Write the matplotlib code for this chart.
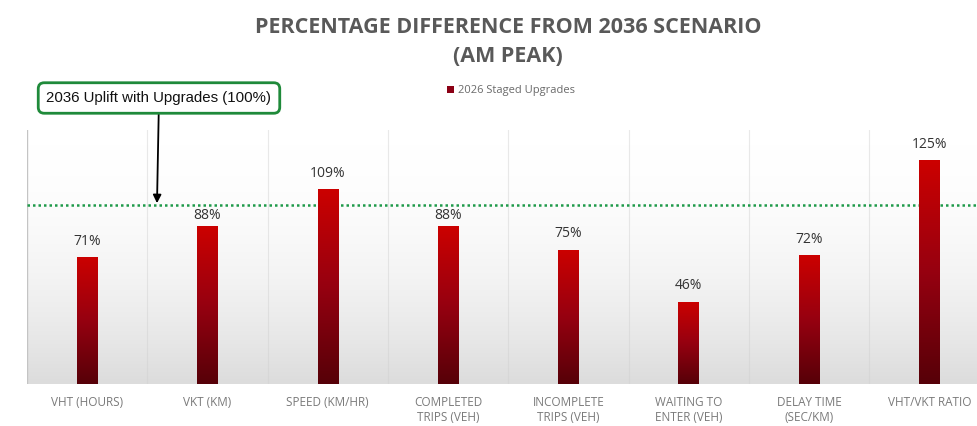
import numpy as np
import matplotlib
matplotlib.use('Agg')
import matplotlib.pyplot as plt
from matplotlib.colors import LinearSegmentedColormap
from matplotlib.patches import Rectangle

# Chart data
categories = ['VHT (HOURS)', 'VKT (KM)', 'SPEED (KM/HR)', 'COMPLETED\nTRIPS (VEH)',
              'INCOMPLETE\nTRIPS (VEH)', 'WAITING TO\nENTER (VEH)', 'DELAY TIME\n(SEC/KM)',
              'VHT/VKT RATIO']
staged_2026 = [71, 88, 109, 88, 75, 46, 72, 125]
uplift_level = 100
series_name = '2026 Staged Upgrades'
title = 'PERCENTAGE DIFFERENCE FROM 2036 SCENARIO\n(AM PEAK)'
callout = '2036 Uplift with Upgrades (100%)'

# label lift above each bar (points); the 88% ones sit tighter to clear the dotted line
label_lift = [6, 2.5, 6, 2.5, 6, 6, 6, 6]

W, H = 978, 426
fig = plt.figure(figsize=(W / 100, H / 100), dpi=100)
fig.patch.set_facecolor('white')

# Plot area: left edge at 27 px, bottom at 384 px, top at 130 px; runs off the right edge
ax = fig.add_axes([27 / W, 1 - 384 / H, 1 - 27 / W, (384 - 130) / H])
slot_px = 120.3
x_right = (W - 27) / slot_px - 0.5
y_top = (384 - 130) / 179 * 100
ax.set_xlim(-0.5, x_right)
ax.set_ylim(0, y_top)

# soft white-to-grey background, grey at the bottom
bg = np.linspace(1, 0, 256).reshape(-1, 1) ** 2.0
bg_cmap = LinearSegmentedColormap.from_list('bg', ['#ffffff', '#dcdcdc'])
ax.imshow(bg, cmap=bg_cmap, aspect='auto', extent=[-0.5, x_right, 0, y_top],
          origin='lower', zorder=0)

# faint separators between categories
for i in range(len(categories)):
    ax.axvline(i + 0.5, color='#cfcfcf', lw=0.8, alpha=0.45, zorder=1)
ax.axvline(-0.5, color='#c4c4c4', lw=1, zorder=1)

# bars with a red-to-maroon vertical gradient
bar_cmap = LinearSegmentedColormap.from_list('bar', ['#560008', '#960010', '#cc0000'])
grad = np.linspace(0, 1, 256).reshape(-1, 1)
bar_w = 0.17
x = np.arange(len(categories))
for xi, v, lift in zip(x, staged_2026, label_lift):
    rect = Rectangle((xi - bar_w / 2, 0), bar_w, v, facecolor='none', edgecolor='none')
    ax.add_patch(rect)
    im = ax.imshow(grad, cmap=bar_cmap, aspect='auto', origin='lower',
                   extent=[xi - bar_w / 2, xi + bar_w / 2, 0, v], zorder=3)
    im.set_clip_path(rect)
    ax.annotate(f'{v}%', xy=(xi, v), xytext=(0, lift), textcoords='offset points',
                ha='center', va='bottom', fontsize=10, color='#333333',
                family='Open Sans', zorder=4)

# 100% reference line
ax.axhline(uplift_level, color='#1f9a4a', lw=1.8, ls=(0, (1, 1.2)), zorder=2)

ax.set_xticks(x)
ax.set_xticklabels(categories, fontsize=8.5, color='#7a7a7a', family='Open Sans',
                   linespacing=1.15)
ax.tick_params(axis='x', length=0, pad=9)
ax.set_yticks([])
for s in ax.spines.values():
    s.set_visible(False)

# title
fig.text(508 / W, 1 - 42 / H, title, ha='center', va='center', fontsize=15.5,
         fontweight='bold', color='#595959', family='Open Sans', linespacing=1.45)

# legend
ax.bar([0], [0], color='#8b0015', label=series_name)
fig.legend(loc='center', bbox_to_anchor=(511 / W, 1 - 91 / H), frameon=False,
           labelcolor='#6a6a6a', handlelength=0.6, handleheight=0.6,
           handletextpad=0.4, prop={'family': 'Open Sans', 'size': 8})

# callout box with arrow down to the 100% line
arrow_x = (157 - 27) / slot_px - 0.5
ax.annotate(callout, xy=(arrow_x, uplift_level + 1), xycoords='data',
            xytext=(159 / W, 1 - 98 / H), textcoords='figure fraction',
            ha='center', va='center', fontsize=10.8, family='Liberation Sans',
            color='#111111',
            bbox=dict(boxstyle='round,pad=0.55,rounding_size=0.4', fc='white',
                      ec='#1f8a3a', lw=2),
            arrowprops=dict(arrowstyle='-|>', color='black', lw=1.3,
                            mutation_scale=12, shrinkA=0, shrinkB=0),
            annotation_clip=False, zorder=5)

fig.savefig('out.png', dpi=100)
